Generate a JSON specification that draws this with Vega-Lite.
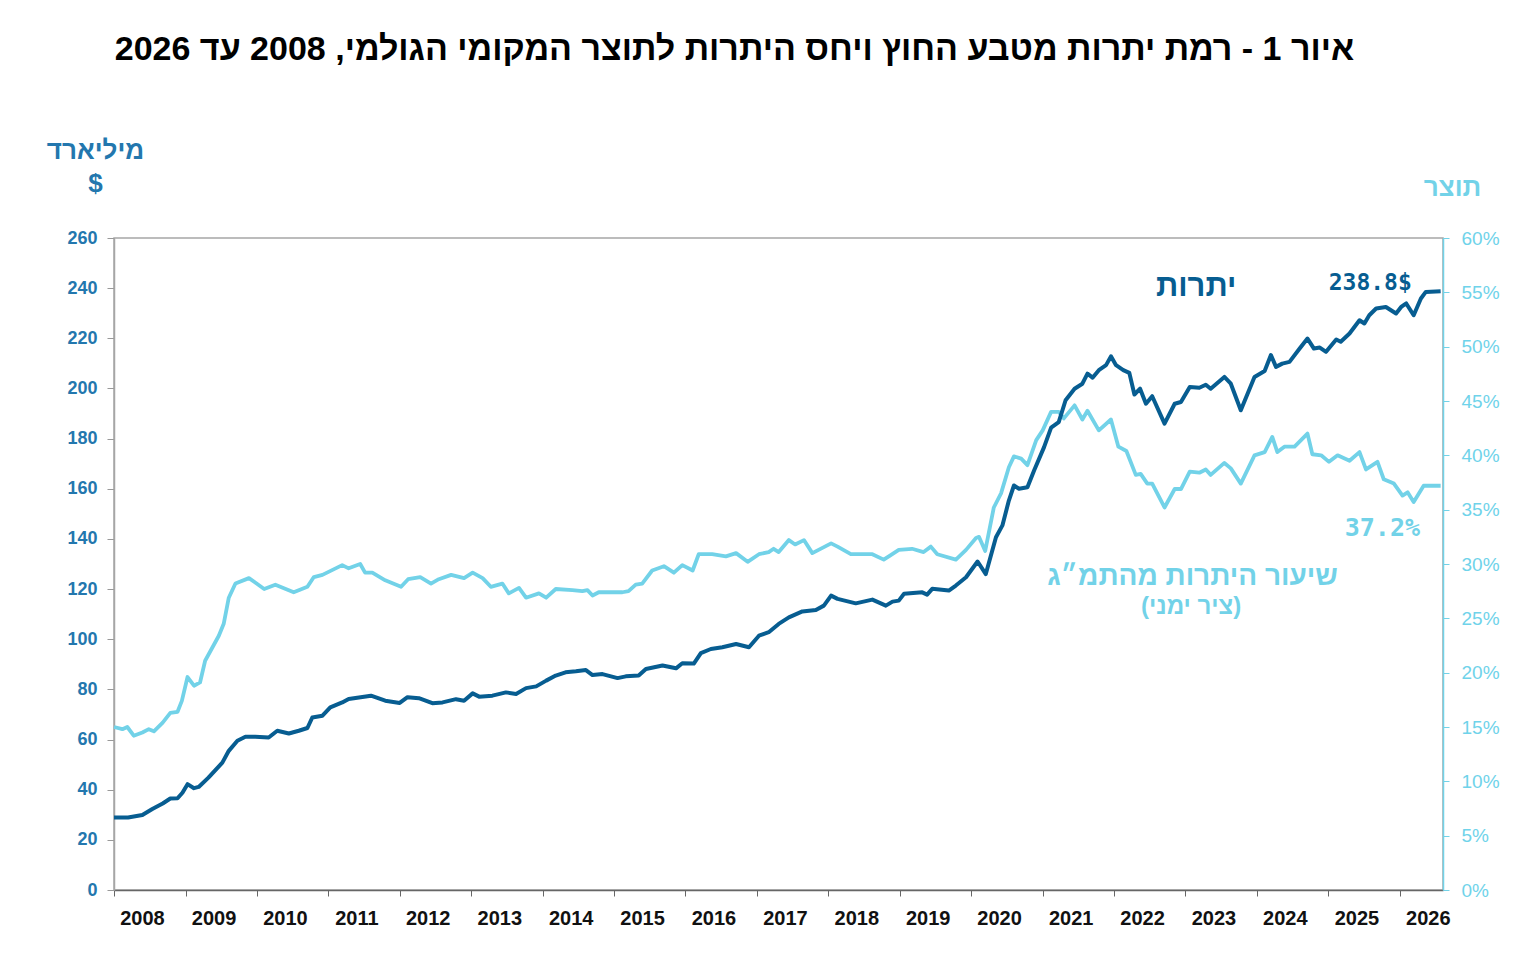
{
  "$schema": "https://vega.github.io/schema/vega-lite/v6.json",
  "width": 1329,
  "height": 652,
  "autosize": {"type": "none"},
  "padding": {"left": 114, "top": 238, "right": 87, "bottom": 72},
  "background": "white",
  "title": {
    "text": "איור 1 - רמת יתרות מטבע החוץ ויחס היתרות לתוצר המקומי הגולמי, 2008 עד 2026",
    "font": "Liberation Sans",
    "fontSize": 34,
    "fontWeight": "bold",
    "color": "#000000",
    "anchor": "middle",
    "frame": "group",
    "dx": -44,
    "offset": 70
  },
  "config": {
    "view": {"stroke": "#a6a6a6", "strokeWidth": 1.5},
    "axis": {"grid": false}
  },
  "datasets": {
    "res": [
      {"d": "2008-01-01", "v": 28.9}, {"d": "2008-03-13", "v": 28.9}, {"d": "2008-05-25", "v": 29.9},
      {"d": "2008-07-15", "v": 32.3}, {"d": "2008-09-06", "v": 34.5}, {"d": "2008-10-15", "v": 36.5},
      {"d": "2008-11-21", "v": 36.6}, {"d": "2008-12-16", "v": 38.8}, {"d": "2009-01-11", "v": 42.2},
      {"d": "2009-02-13", "v": 40.6}, {"d": "2009-03-09", "v": 41.1}, {"d": "2009-04-28", "v": 44.8},
      {"d": "2009-07-08", "v": 50.8}, {"d": "2009-08-10", "v": 55.5}, {"d": "2009-09-23", "v": 59.5},
      {"d": "2009-11-03", "v": 61.1}, {"d": "2009-12-23", "v": 61.1}, {"d": "2010-03-02", "v": 60.8},
      {"d": "2010-04-15", "v": 63.5}, {"d": "2010-06-13", "v": 62.4}, {"d": "2010-08-03", "v": 63.5},
      {"d": "2010-09-16", "v": 64.6}, {"d": "2010-10-11", "v": 68.8}, {"d": "2010-12-02", "v": 69.5},
      {"d": "2011-01-11", "v": 72.8}, {"d": "2011-03-13", "v": 74.8}, {"d": "2011-04-15", "v": 76.2},
      {"d": "2011-08-07", "v": 77.5}, {"d": "2011-10-19", "v": 75.5}, {"d": "2012-01-01", "v": 74.6},
      {"d": "2012-02-10", "v": 76.9}, {"d": "2012-04-08", "v": 76.5}, {"d": "2012-06-16", "v": 74.5},
      {"d": "2012-08-07", "v": 74.8}, {"d": "2012-10-15", "v": 76.1}, {"d": "2012-11-25", "v": 75.5},
      {"d": "2013-01-08", "v": 78.4}, {"d": "2013-02-10", "v": 77.1}, {"d": "2013-04-19", "v": 77.5},
      {"d": "2013-06-27", "v": 78.8}, {"d": "2013-08-18", "v": 78.2}, {"d": "2013-10-08", "v": 80.5},
      {"d": "2013-11-29", "v": 81.2}, {"d": "2014-01-19", "v": 83.5}, {"d": "2014-03-09", "v": 85.5},
      {"d": "2014-04-28", "v": 86.8}, {"d": "2014-06-20", "v": 87.2}, {"d": "2014-08-10", "v": 87.7},
      {"d": "2014-09-13", "v": 85.7}, {"d": "2014-11-03", "v": 86.1}, {"d": "2015-01-19", "v": 84.5},
      {"d": "2015-03-02", "v": 85.2}, {"d": "2015-05-07", "v": 85.5}, {"d": "2015-06-13", "v": 88.1},
      {"d": "2015-09-06", "v": 89.5}, {"d": "2015-11-14", "v": 88.4}, {"d": "2015-12-16", "v": 90.4},
      {"d": "2016-02-13", "v": 90.3}, {"d": "2016-03-20", "v": 94.5}, {"d": "2016-05-10", "v": 96.1},
      {"d": "2016-07-08", "v": 96.8}, {"d": "2016-09-16", "v": 98.1}, {"d": "2016-11-21", "v": 96.8},
      {"d": "2017-01-11", "v": 101.4}, {"d": "2017-03-02", "v": 102.8}, {"d": "2017-04-22", "v": 106.1},
      {"d": "2017-06-13", "v": 108.7}, {"d": "2017-08-21", "v": 111.1}, {"d": "2017-10-29", "v": 111.7},
      {"d": "2017-12-09", "v": 113.4}, {"d": "2018-01-15", "v": 117.4}, {"d": "2018-02-17", "v": 116.1},
      {"d": "2018-05-21", "v": 114.3}, {"d": "2018-08-14", "v": 115.8}, {"d": "2018-10-22", "v": 113.4},
      {"d": "2018-11-25", "v": 115.0}, {"d": "2018-12-27", "v": 115.4}, {"d": "2019-01-23", "v": 118.1},
      {"d": "2019-04-26", "v": 118.7}, {"d": "2019-05-21", "v": 117.8}, {"d": "2019-06-16", "v": 120.1},
      {"d": "2019-09-09", "v": 119.4}, {"d": "2019-10-15", "v": 121.4}, {"d": "2019-12-06", "v": 124.7},
      {"d": "2020-02-03", "v": 131.0}, {"d": "2020-03-16", "v": 126.0}, {"d": "2020-05-07", "v": 140.7},
      {"d": "2020-06-09", "v": 145.4}, {"d": "2020-07-12", "v": 155.3}, {"d": "2020-08-07", "v": 161.3},
      {"d": "2020-09-02", "v": 160.0}, {"d": "2020-10-15", "v": 160.6}, {"d": "2020-11-18", "v": 167.3},
      {"d": "2021-01-08", "v": 176.6}, {"d": "2021-02-13", "v": 184.4}, {"d": "2021-03-24", "v": 186.6},
      {"d": "2021-04-28", "v": 195.3}, {"d": "2021-06-13", "v": 199.9}, {"d": "2021-07-23", "v": 201.9},
      {"d": "2021-08-18", "v": 205.9}, {"d": "2021-09-13", "v": 204.3}, {"d": "2021-10-15", "v": 207.3},
      {"d": "2021-11-21", "v": 209.3}, {"d": "2021-12-16", "v": 212.8}, {"d": "2022-01-11", "v": 209.3},
      {"d": "2022-02-17", "v": 207.3}, {"d": "2022-03-20", "v": 206.2}, {"d": "2022-04-15", "v": 197.6},
      {"d": "2022-05-14", "v": 199.9}, {"d": "2022-06-13", "v": 193.9}, {"d": "2022-07-15", "v": 196.9},
      {"d": "2022-09-16", "v": 186.0}, {"d": "2022-11-07", "v": 193.9}, {"d": "2022-12-09", "v": 194.6},
      {"d": "2023-01-23", "v": 200.6}, {"d": "2023-03-13", "v": 200.3}, {"d": "2023-04-15", "v": 201.5},
      {"d": "2023-05-10", "v": 199.9}, {"d": "2023-07-19", "v": 204.6}, {"d": "2023-08-21", "v": 201.9},
      {"d": "2023-10-11", "v": 191.3}, {"d": "2023-12-20", "v": 204.6}, {"d": "2024-02-10", "v": 207.0},
      {"d": "2024-03-13", "v": 213.3}, {"d": "2024-04-08", "v": 208.6}, {"d": "2024-05-10", "v": 209.9},
      {"d": "2024-06-16", "v": 210.6}, {"d": "2024-08-07", "v": 215.9}, {"d": "2024-09-16", "v": 219.9},
      {"d": "2024-10-19", "v": 215.9}, {"d": "2024-11-18", "v": 216.3}, {"d": "2024-12-20", "v": 214.6},
      {"d": "2025-02-10", "v": 219.5}, {"d": "2025-03-05", "v": 218.6}, {"d": "2025-04-19", "v": 221.9},
      {"d": "2025-06-09", "v": 227.2}, {"d": "2025-07-04", "v": 225.9}, {"d": "2025-07-29", "v": 229.2},
      {"d": "2025-09-02", "v": 231.9}, {"d": "2025-10-22", "v": 232.5}, {"d": "2025-12-13", "v": 229.9},
      {"d": "2026-01-08", "v": 232.5}, {"d": "2026-02-03", "v": 233.9}, {"d": "2026-03-13", "v": 229.2},
      {"d": "2026-04-19", "v": 235.9}, {"d": "2026-05-14", "v": 238.5}, {"d": "2026-07-29", "v": 238.8}
    ],
    "pct": [
      {"d": "2008-01-01", "v": 15.0}, {"d": "2008-02-13", "v": 14.8}, {"d": "2008-03-09", "v": 15.0},
      {"d": "2008-04-11", "v": 14.2}, {"d": "2008-05-25", "v": 14.5}, {"d": "2008-06-27", "v": 14.8},
      {"d": "2008-07-23", "v": 14.6}, {"d": "2008-09-06", "v": 15.4}, {"d": "2008-10-15", "v": 16.3},
      {"d": "2008-11-21", "v": 16.4}, {"d": "2008-12-13", "v": 17.4}, {"d": "2009-01-11", "v": 19.6},
      {"d": "2009-02-13", "v": 18.8}, {"d": "2009-03-16", "v": 19.1}, {"d": "2009-04-11", "v": 21.1},
      {"d": "2009-06-20", "v": 23.4}, {"d": "2009-07-15", "v": 24.5}, {"d": "2009-08-10", "v": 26.9},
      {"d": "2009-09-13", "v": 28.2}, {"d": "2009-11-21", "v": 28.7}, {"d": "2009-12-23", "v": 28.3},
      {"d": "2010-02-07", "v": 27.7}, {"d": "2010-04-05", "v": 28.1}, {"d": "2010-07-08", "v": 27.4},
      {"d": "2010-09-16", "v": 27.9}, {"d": "2010-10-19", "v": 28.8}, {"d": "2010-12-02", "v": 29.0},
      {"d": "2011-03-13", "v": 29.9}, {"d": "2011-04-15", "v": 29.6}, {"d": "2011-06-13", "v": 30.0},
      {"d": "2011-07-08", "v": 29.2}, {"d": "2011-08-14", "v": 29.2}, {"d": "2011-10-19", "v": 28.5},
      {"d": "2012-01-08", "v": 27.9}, {"d": "2012-02-13", "v": 28.6}, {"d": "2012-04-15", "v": 28.8},
      {"d": "2012-06-09", "v": 28.2}, {"d": "2012-07-19", "v": 28.6}, {"d": "2012-09-20", "v": 29.0},
      {"d": "2012-11-25", "v": 28.7}, {"d": "2013-01-08", "v": 29.2}, {"d": "2013-02-28", "v": 28.7},
      {"d": "2013-04-11", "v": 27.9}, {"d": "2013-06-09", "v": 28.2}, {"d": "2013-07-12", "v": 27.3},
      {"d": "2013-09-02", "v": 27.8}, {"d": "2013-10-08", "v": 26.9}, {"d": "2013-12-13", "v": 27.3},
      {"d": "2014-01-19", "v": 26.9}, {"d": "2014-03-09", "v": 27.7}, {"d": "2014-06-02", "v": 27.6},
      {"d": "2014-07-23", "v": 27.5}, {"d": "2014-08-18", "v": 27.6}, {"d": "2014-09-13", "v": 27.1},
      {"d": "2014-10-15", "v": 27.4}, {"d": "2015-02-13", "v": 27.4}, {"d": "2015-03-16", "v": 27.5},
      {"d": "2015-04-22", "v": 28.1}, {"d": "2015-05-25", "v": 28.2}, {"d": "2015-07-15", "v": 29.4},
      {"d": "2015-09-13", "v": 29.8}, {"d": "2015-11-03", "v": 29.2}, {"d": "2015-12-16", "v": 29.9},
      {"d": "2016-02-07", "v": 29.4}, {"d": "2016-03-09", "v": 30.9}, {"d": "2016-05-17", "v": 30.9},
      {"d": "2016-07-26", "v": 30.7}, {"d": "2016-09-16", "v": 31.0}, {"d": "2016-11-14", "v": 30.2},
      {"d": "2017-01-11", "v": 30.9}, {"d": "2017-03-02", "v": 31.1}, {"d": "2017-03-27", "v": 31.4},
      {"d": "2017-04-22", "v": 31.1}, {"d": "2017-06-13", "v": 32.2}, {"d": "2017-07-15", "v": 31.8},
      {"d": "2017-08-29", "v": 32.2}, {"d": "2017-10-11", "v": 31.0}, {"d": "2018-01-15", "v": 31.9},
      {"d": "2018-02-17", "v": 31.6}, {"d": "2018-04-26", "v": 30.9}, {"d": "2018-08-14", "v": 30.9},
      {"d": "2018-10-11", "v": 30.4}, {"d": "2018-11-14", "v": 30.8}, {"d": "2018-12-27", "v": 31.3},
      {"d": "2019-03-05", "v": 31.4}, {"d": "2019-05-03", "v": 31.1}, {"d": "2019-06-09", "v": 31.6},
      {"d": "2019-07-12", "v": 30.9}, {"d": "2019-10-15", "v": 30.4}, {"d": "2019-12-06", "v": 31.3},
      {"d": "2020-01-26", "v": 32.4}, {"d": "2020-02-10", "v": 32.5}, {"d": "2020-03-13", "v": 31.2},
      {"d": "2020-04-26", "v": 35.2}, {"d": "2020-06-02", "v": 36.5}, {"d": "2020-07-12", "v": 38.9},
      {"d": "2020-08-07", "v": 39.9}, {"d": "2020-09-13", "v": 39.7}, {"d": "2020-10-15", "v": 39.1},
      {"d": "2020-11-29", "v": 41.4}, {"d": "2021-01-01", "v": 42.3}, {"d": "2021-02-13", "v": 44.0},
      {"d": "2021-03-24", "v": 44.0}, {"d": "2021-04-19", "v": 43.4}, {"d": "2021-06-13", "v": 44.6},
      {"d": "2021-07-23", "v": 43.3}, {"d": "2021-08-18", "v": 44.1}, {"d": "2021-10-15", "v": 42.3},
      {"d": "2021-12-16", "v": 43.3}, {"d": "2022-01-23", "v": 40.8}, {"d": "2022-03-05", "v": 40.4},
      {"d": "2022-04-22", "v": 38.2}, {"d": "2022-05-17", "v": 38.3}, {"d": "2022-06-20", "v": 37.4},
      {"d": "2022-07-15", "v": 37.4}, {"d": "2022-09-16", "v": 35.2}, {"d": "2022-11-07", "v": 36.9},
      {"d": "2022-12-09", "v": 36.9}, {"d": "2023-01-23", "v": 38.5}, {"d": "2023-03-13", "v": 38.4},
      {"d": "2023-04-15", "v": 38.7}, {"d": "2023-05-10", "v": 38.2}, {"d": "2023-07-19", "v": 39.3},
      {"d": "2023-08-21", "v": 38.8}, {"d": "2023-10-11", "v": 37.4}, {"d": "2023-12-20", "v": 40.0},
      {"d": "2024-02-10", "v": 40.3}, {"d": "2024-03-20", "v": 41.7}, {"d": "2024-04-15", "v": 40.3},
      {"d": "2024-05-21", "v": 40.8}, {"d": "2024-07-12", "v": 40.8}, {"d": "2024-08-14", "v": 41.4},
      {"d": "2024-09-16", "v": 42.0}, {"d": "2024-10-11", "v": 40.1}, {"d": "2024-11-25", "v": 40.0},
      {"d": "2025-01-04", "v": 39.4}, {"d": "2025-02-17", "v": 40.0}, {"d": "2025-04-19", "v": 39.5},
      {"d": "2025-06-09", "v": 40.3}, {"d": "2025-07-12", "v": 38.7}, {"d": "2025-09-09", "v": 39.4},
      {"d": "2025-10-11", "v": 37.8}, {"d": "2025-12-02", "v": 37.4}, {"d": "2026-01-15", "v": 36.3},
      {"d": "2026-02-10", "v": 36.6}, {"d": "2026-03-13", "v": 35.7}, {"d": "2026-05-03", "v": 37.2},
      {"d": "2026-07-29", "v": 37.2}
    ],
    "lab": [
      {"d": "2023-02-25", "v": 240.5, "t": "יתרות", "k": "res"},
      {"d": "2025-08-03", "v": 242.0, "t": "238.8$", "k": "resval"},
      {"d": "2025-10-04", "v": 144.3, "t": "37.2%", "k": "pctval"},
      {"d": "2023-02-06", "v": 125.0, "t": "שיעור היתרות מהתמ״ג", "k": "pct"},
      {"d": "2023-01-30", "v": 113.0, "t": "(ציר ימני)", "k": "pctsub"}
    ]
  },
  "layer": [
    {
      "data": {"name": "pct"},
      "mark": {"type": "line", "color": "#72d2e8", "strokeWidth": 3.8, "strokeJoin": "round"},
      "encoding": {
        "x": {
          "field": "d", "type": "temporal",
          "scale": {"type": "utc", "domain": [{"year": 2008, "month": 1, "date": 1, "utc": true}, {"year": 2026, "month": 8, "date": 10, "utc": true}]},
          "axis": {
            "title": null, "orient": "bottom", "format": "%Y", "formatType": "utc",
            "values": [
              {"year": 2008, "utc": true}, {"year": 2009, "utc": true}, {"year": 2010, "utc": true},
              {"year": 2011, "utc": true}, {"year": 2012, "utc": true}, {"year": 2013, "utc": true},
              {"year": 2014, "utc": true}, {"year": 2015, "utc": true}, {"year": 2016, "utc": true},
              {"year": 2017, "utc": true}, {"year": 2018, "utc": true}, {"year": 2019, "utc": true},
              {"year": 2020, "utc": true}, {"year": 2021, "utc": true}, {"year": 2022, "utc": true},
              {"year": 2023, "utc": true}, {"year": 2024, "utc": true}, {"year": 2025, "utc": true},
              {"year": 2026, "utc": true}
            ],
            "labelOffset": 28, "labelFlush": false, "labelOverlap": false,
            "labelFont": "Liberation Sans", "labelFontSize": 20, "labelFontWeight": "bold", "labelColor": "#111111",
            "labelPadding": 12, "tickSize": 6, "tickColor": "#666666", "domainColor": "#666666", "domainWidth": 1.5
          }
        },
        "y": {
          "field": "v", "type": "quantitative",
          "scale": {"domain": [0, 60], "nice": false, "zero": true},
          "axis": {
            "orient": "right",
            "values": [0, 5, 10, 15, 20, 25, 30, 35, 40, 45, 50, 55, 60],
            "labelExpr": "datum.value + '%'",
            "labelFont": "Liberation Sans", "labelFontSize": 19, "labelFontWeight": "normal", "labelColor": "#6fd3ea",
            "tickColor": "#72d2e8", "domainColor": "#72d2e8", "domainWidth": 1.5, "tickSize": 6, "labelPadding": 12,
            "title": "תוצר", "titleAngle": 0, "titleX": 9, "titleY": -43, "titleAlign": "center", "titleBaseline": "alphabetic",
            "titleFont": "Liberation Sans", "titleFontSize": 26, "titleFontWeight": "bold", "titleColor": "#72d2e8"
          }
        }
      }
    },
    {
      "layer": [
        {
          "data": {"name": "res"},
          "mark": {"type": "line", "color": "#075d91", "strokeWidth": 4, "strokeJoin": "round"},
          "encoding": {
            "x": {"field": "d", "type": "temporal"},
            "y": {
              "field": "v", "type": "quantitative",
              "scale": {"domain": [0, 260], "nice": false},
              "axis": {
                "orient": "left",
                "values": [0, 20, 40, 60, 80, 100, 120, 140, 160, 180, 200, 220, 240, 260],
                "labelFont": "Liberation Sans", "labelFontSize": 18, "labelFontWeight": "bold", "labelColor": "#2377ae",
                "tickColor": "#999999", "domainColor": "#a6a6a6", "domainWidth": 1.5, "tickSize": 7, "labelPadding": 10,
                "title": ["מיליארד", "$"], "titleAngle": 0, "titleX": -19, "titleY": -80, "titleAlign": "center", "titleBaseline": "alphabetic",
                "titleLineHeight": 33,
                "titleFont": "Liberation Sans", "titleFontSize": 26, "titleFontWeight": "bold", "titleColor": "#2377ae"
              }
            }
          }
        },
        {
          "data": {"name": "lab"},
          "transform": [{"filter": "datum.k == 'res'"}],
          "mark": {"type": "text", "font": "Liberation Sans", "fontSize": 31, "fontWeight": "bold", "color": "#075d91", "align": "center", "baseline": "middle"},
          "encoding": {"x": {"field": "d", "type": "temporal"}, "y": {"field": "v", "type": "quantitative"}, "text": {"field": "t"}}
        },
        {
          "data": {"name": "lab"},
          "transform": [{"filter": "datum.k == 'resval'"}],
          "mark": {"type": "text", "font": "DejaVu Sans Mono", "fontSize": 23, "fontWeight": "bold", "color": "#075d91", "align": "center", "baseline": "middle"},
          "encoding": {"x": {"field": "d", "type": "temporal"}, "y": {"field": "v", "type": "quantitative"}, "text": {"field": "t"}}
        },
        {
          "data": {"name": "lab"},
          "transform": [{"filter": "datum.k == 'pctval'"}],
          "mark": {"type": "text", "font": "DejaVu Sans Mono", "fontSize": 25, "fontWeight": "bold", "color": "#72d2e8", "align": "center", "baseline": "middle"},
          "encoding": {"x": {"field": "d", "type": "temporal"}, "y": {"field": "v", "type": "quantitative"}, "text": {"field": "t"}}
        },
        {
          "data": {"name": "lab"},
          "transform": [{"filter": "datum.k == 'pct'"}],
          "mark": {"type": "text", "font": "Liberation Sans", "fontSize": 28, "fontWeight": "bold", "color": "#72d2e8", "align": "center", "baseline": "middle"},
          "encoding": {"x": {"field": "d", "type": "temporal"}, "y": {"field": "v", "type": "quantitative"}, "text": {"field": "t"}}
        },
        {
          "data": {"name": "lab"},
          "transform": [{"filter": "datum.k == 'pctsub'"}],
          "mark": {"type": "text", "font": "Liberation Sans", "fontSize": 24, "fontWeight": "bold", "color": "#72d2e8", "align": "center", "baseline": "middle"},
          "encoding": {"x": {"field": "d", "type": "temporal"}, "y": {"field": "v", "type": "quantitative"}, "text": {"field": "t"}}
        }
      ]
    }
  ],
  "resolve": {"scale": {"y": "independent"}}
}
